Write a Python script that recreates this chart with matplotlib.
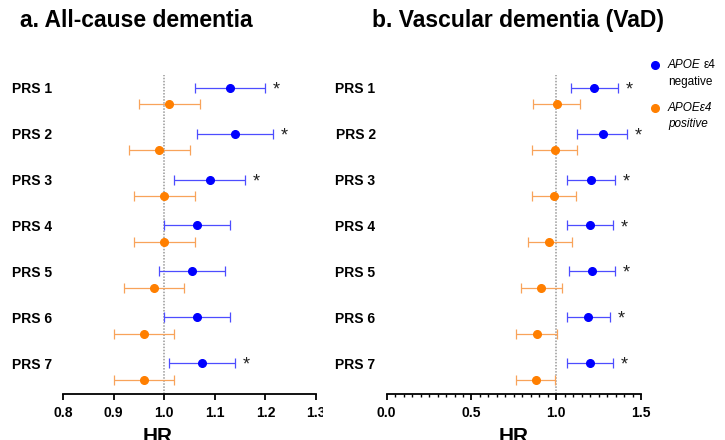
import numpy as np
import matplotlib
matplotlib.use("Agg")
import matplotlib.pyplot as plt
from matplotlib.transforms import Bbox, TransformedBbox
from matplotlib.ticker import MultipleLocator

plt.rcParams['font.family'] = ['Liberation Sans', 'DejaVu Sans']

labels = ["PRS 1", "PRS 2", "PRS 3", "PRS 4", "PRS 5", "PRS 6", "PRS 7"]

# a. all-cause dementia, hazard ratios with 95% CI
a_neg_hr = [1.13, 1.14, 1.09, 1.065, 1.055, 1.065, 1.075]
a_neg_lo = [1.06, 1.065, 1.02, 1.00, 0.99, 1.00, 1.01]
a_neg_hi = [1.20, 1.215, 1.16, 1.13, 1.12, 1.13, 1.14]
a_pos_hr = [1.01, 0.99, 1.00, 1.00, 0.98, 0.96, 0.96]
a_pos_lo = [0.95, 0.93, 0.94, 0.94, 0.92, 0.90, 0.90]
a_pos_hi = [1.07, 1.05, 1.06, 1.06, 1.04, 1.02, 1.02]
a_sig = [True, True, True, False, False, False, True]

# b. vascular dementia
b_neg_hr = [1.225, 1.275, 1.205, 1.20, 1.21, 1.19, 1.20]
b_neg_lo = [1.085, 1.125, 1.065, 1.065, 1.075, 1.065, 1.065]
b_neg_hi = [1.365, 1.42, 1.345, 1.335, 1.345, 1.32, 1.335]
b_pos_hr = [1.005, 0.99, 0.985, 0.96, 0.91, 0.885, 0.88]
b_pos_lo = [0.865, 0.855, 0.855, 0.835, 0.79, 0.765, 0.76]
b_pos_hi = [1.14, 1.125, 1.115, 1.095, 1.035, 1.005, 0.995]
b_sig = [True, True, True, True, True, True, True]

blue, blue_l = "#0000ff", "#4d4dff"
orange, orange_l = "#ff7f00", "#f8a35a"

fig = plt.figure(figsize=(7.25, 4.4), dpi=100)
ax_a = fig.add_axes([63 / 725, 1 - 394 / 440, 253 / 725, 319 / 440])
ax_b = fig.add_axes([386.7 / 725, 1 - 394 / 440, 254.3 / 725, 319 / 440])


def forest(ax, hr1, lo1, hi1, hr2, lo2, hi2, sig):
    y = np.arange(len(labels))
    hr1, lo1, hi1 = map(np.array, (hr1, lo1, hi1))
    hr2, lo2, hi2 = map(np.array, (hr2, lo2, hi2))
    ax.axvline(1.0, color="#999999", ls=(0, (1, 1)), lw=1.1, zorder=1)
    ax.errorbar(hr1, y, xerr=[hr1 - lo1, hi1 - hr1], fmt="o", color=blue,
                ecolor=blue_l, ms=5.5, elinewidth=0.9, capsize=3.5, capthick=0.9, zorder=3)
    ax.errorbar(hr2, y + 0.36, xerr=[hr2 - lo2, hi2 - hr2], fmt="o", color=orange,
                ecolor=orange_l, ms=5.5, elinewidth=0.9, capsize=3.5, capthick=0.9, zorder=3)
    for yi, h, s in zip(y, hi1, sig):
        if s:
            ax.annotate("*", (h, yi), xytext=(8, -1.5), textcoords="offset points",
                        ha="center", va="center", fontsize=13, color="#222222")
    ax.set_ylim(6.673, -0.277)
    ax.set_yticks(y)
    ax.set_yticklabels(labels, fontsize=10, fontweight="bold")
    ax.tick_params(axis="y", length=0, pad=8)
    for sp in ("top", "right", "left"):
        ax.spines[sp].set_visible(False)
    ax.spines["bottom"].set_linewidth(1.3)
    ax.tick_params(axis="x", which="major", length=4, width=1.3, pad=4.5,
                   labelsize=10)
    ax.tick_params(axis="x", which="minor", length=2.5, width=1.0)
    ax.set_xlabel("HR", fontsize=15, fontweight="bold")


forest(ax_a, a_neg_hr, a_neg_lo, a_neg_hi, a_pos_hr, a_pos_lo, a_pos_hi, a_sig)
ax_a.set_xlim(0.8, 1.3)
ax_a.set_xticks([0.8, 0.9, 1.0, 1.1, 1.2, 1.3])
ax_a.set_xticklabels(["0.8", "0.9", "1.0", "1.1", "1.2", "1.3"], fontweight="bold")
ax_a.xaxis.set_label_coords(0.373, -0.105)

forest(ax_b, b_neg_hr, b_neg_lo, b_neg_hi, b_pos_hr, b_pos_lo, b_pos_hi, b_sig)
ax_b.set_xlim(0.0, 1.5)
ax_b.set_xticks([0.0, 0.5, 1.0, 1.5])
ax_b.set_xticklabels(["0.0", "0.5", "1.0", "1.5"], fontweight="bold")
ax_b.xaxis.set_minor_locator(MultipleLocator(0.05))
ax_b.xaxis.set_label_coords(0.5, -0.105)

# the last tick label of panel a is cut off in the original
clip = TransformedBbox(Bbox([[0, 0], [323 / 725, 1]]), fig.transFigure)
for t in ax_a.get_xticklabels():
    t.set_clip_box(clip)
    t.set_clip_on(True)

fig.text(20 / 725, 1 - 27 / 440, "a. All-cause dementia", fontsize=16.5,
         fontweight="bold", va="baseline")
fig.text(371.7 / 725, 1 - 27 / 440, "b. Vascular dementia (VaD)", fontsize=16.5,
         fontweight="bold", va="baseline")

# legend
fig.lines.append(plt.Line2D([655 / 725], [1 - 65 / 440], marker="o", color=blue,
                            ms=5.5, transform=fig.transFigure))
fig.lines.append(plt.Line2D([655 / 725], [1 - 108 / 440], marker="o", color=orange,
                            ms=5.5, transform=fig.transFigure))
t_apoe = fig.text(668 / 725, 1 - 65 / 440, "APOE", fontsize=8.5, style="italic",
                  va="center")
fig.text(668 / 725, 1 - 81.5 / 440, "negative", fontsize=8.5, va="center")
fig.text(668 / 725, 1 - 108 / 440, "APOEε4", fontsize=8.5, style="italic", va="center")
fig.text(668 / 725, 1 - 124 / 440, "positive", fontsize=8.5, style="italic", va="center")
fig.canvas.draw()
bb = t_apoe.get_window_extent()
fig.text(bb.x1 / 725 + 3 / 725, 1 - 65 / 440, "ε4", fontsize=8.5, va="center")

fig.savefig("out.png", dpi=100)
